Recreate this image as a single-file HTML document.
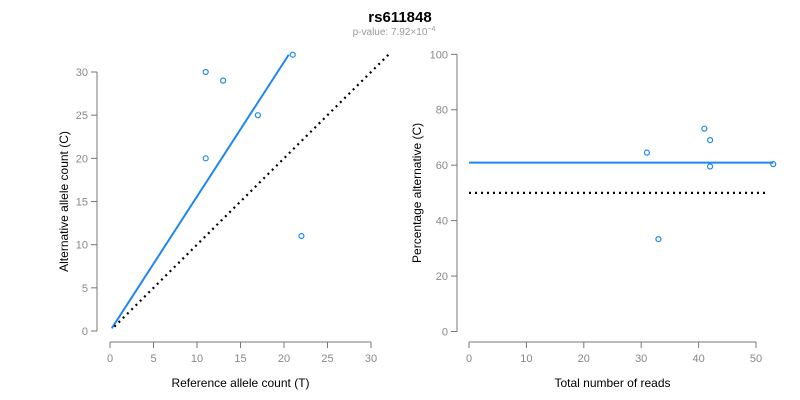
<!DOCTYPE html>
<html><head><meta charset="utf-8"><style>
body{margin:0;background:#fff;}
svg{display:block;font-family:"Liberation Sans",Arial,sans-serif;}
.tick{fill:#888;font-size:11px;}
.ax{stroke:#777;stroke-width:1;fill:none;}
.lab{fill:#000;font-size:12px;}
</style></head><body>
<svg id="c" width="800" height="400">
<text x="400" y="22" text-anchor="middle" font-weight="bold" font-size="15">rs611848</text>
<text x="394" y="35" text-anchor="middle" font-size="10" fill="#999">p-value: 7.92×10<tspan dy="-4" font-size="7">−4</tspan></text>
<g id="left"></g><g id="right"></g>
</svg>
<script>
const refCounts=[11,13,17,11,22,21];
const altCounts=[30,29,25,20,11,32];
const leftXTicks=[0,5,10,15,20,25,30];
const leftYTicks=[0,5,10,15,20,25,30];
const rightXTicks=[0,10,20,30,40,50];
const rightYTicks=[0,20,40,60,80,100];
const fitPercent=[60.9];
const nullPercent=[50];
const NS="http://www.w3.org/2000/svg";
function el(p,t,a){const e=document.createElementNS(NS,t);for(const k in a)e.setAttribute(k,a[k]);p.appendChild(e);return e;}
const L=document.getElementById('left'),R=document.getElementById('right');
const lx=v=>110+v*(371-110)/30, ly=v=>331-v*(331-72)/30;
const rx=v=>469+v*(756-469)/50, ry=v=>331.5-v*(331.5-54.3)/100;
function axes(g,xs,ys,xT,yT,yAxX,xAxY,xl,yl,yLabX){
  let a=el(g,'line',{x1:yAxX,x2:yAxX,y1:ys(yT[0]),y2:ys(yT[yT.length-1]),class:'ax'});
  
  yT.forEach(t=>{el(g,'line',{x1:yAxX-6,x2:yAxX,y1:ys(t),y2:ys(t),class:'ax'});
    const tx=el(g,'text',{x:yAxX-9,y:ys(t)+4,'text-anchor':'end',class:'tick'});tx.textContent=t;
    });
  a=el(g,'line',{x1:xs(xT[0]),x2:xs(xT[xT.length-1]),y1:xAxY,y2:xAxY,class:'ax'});
  
  xT.forEach(t=>{el(g,'line',{x1:xs(t),x2:xs(t),y1:xAxY,y2:xAxY+6,class:'ax'});
    const tx=el(g,'text',{x:xs(t),y:xAxY+20,'text-anchor':'middle',class:'tick'});tx.textContent=t;
    });
  const mx=(xs(xT[0])+xs(xT[xT.length-1]))/2;
  let t=el(g,'text',{x:mx,y:387,'text-anchor':'middle',class:'lab'});t.textContent=xl;
  
  const my=(ys(yT[0])+ys(yT[yT.length-1]))/2;
  t=el(g,'text',{x:yLabX,y:my,'text-anchor':'middle',class:'lab',transform:`rotate(-90 ${yLabX} ${my})`});t.textContent=yl;
  
}
axes(L,lx,ly,leftXTicks,leftYTicks,97,342,'Reference allele count (T)','Alternative allele count (C)',68);
axes(R,rx,ry,rightXTicks,rightYTicks,457,342,'Total number of reads','Percentage alternative (C)',421);
// left lines
const mxAll=Math.max(...altCounts);
const refAtMax=refCounts[altCounts.indexOf(mxAll)];
const slope=fitPercent[0]/(100-fitPercent[0]);
const endX=Math.min(refAtMax, mxAll/slope);
let ln=el(L,'line',{x1:lx(0.2),y1:ly(0.2*slope),x2:lx(endX),y2:ly(endX*slope),stroke:'#1e88f0','stroke-width':2});

ln=el(L,'line',{x1:lx(0.5),y1:ly(0.5),x2:lx(mxAll),y2:ly(mxAll),stroke:'#000','stroke-width':2.2,'stroke-dasharray':'2,4'});

refCounts.forEach((r,i)=>{const c=el(L,'circle',{cx:lx(r),cy:ly(altCounts[i]),r:2.5,fill:'none',stroke:'#1e88f0','stroke-width':1.2});
  });
// right
const totals=refCounts.map((r,i)=>r+altCounts[i]);
const pct=altCounts.map((a,i)=>100*a/totals[i]);
const mt=Math.max(...totals);
ln=el(R,'line',{x1:rx(0),y1:ry(fitPercent[0]),x2:rx(mt),y2:ry(fitPercent[0]),stroke:'#1e88f0','stroke-width':2});

ln=el(R,'line',{x1:rx(0),y1:ry(nullPercent[0]),x2:rx(mt-1),y2:ry(nullPercent[0]),stroke:'#000','stroke-width':2.2,'stroke-dasharray':'2,4'});

totals.forEach((t,i)=>{const c=el(R,'circle',{cx:rx(t),cy:ry(pct[i]),r:2.5,fill:'none',stroke:'#1e88f0','stroke-width':1.2});
  });
</script>
</body></html>
